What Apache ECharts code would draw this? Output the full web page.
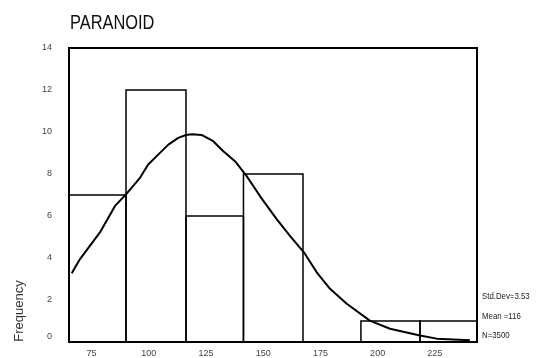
<!DOCTYPE html>
<html>
<head>
<meta charset="utf-8">
<script src="https://cdn.jsdelivr.net/npm/echarts@6/dist/echarts.min.js"></script>
<style>html,body{margin:0;padding:0;background:#fff}#c{width:543px;height:358px}</style>
</head>
<body>
<div id="c"></div>
<script>
// ---- data ----
const binEdges = [65.2, 90.1, 116.3, 141.4, 167.4, 192.7, 218.5, 243.4];
const counts = [7, 12, 6, 8, 0, 1, 1];
const curveX = [66.4, 70.0, 78.7, 85.3, 90.1, 96.2, 99.8, 103.5, 108.6, 112.9, 116.3, 118.8, 123.1, 128.2, 132.6, 137.7, 142.8, 148.6, 155.9, 161.7, 167.8, 173.4, 179.2, 186.5, 196.6, 205.4, 218.5, 225.8, 240.3];
const curveY = [3.27, 3.95, 5.22, 6.48, 7.03, 7.82, 8.45, 8.85, 9.40, 9.72, 9.86, 9.89, 9.86, 9.56, 9.08, 8.61, 7.90, 6.95, 5.85, 5.05, 4.27, 3.32, 2.53, 1.82, 1.02, 0.63, 0.31, 0.16, 0.08];
const xTickLabels = [75, 100, 125, 150, 175, 200, 225];
const stats = ['Std.Dev=3.53', 'Mean =116', 'N=3500'];
const titleText = 'PARANOID';
const yTitle = 'Frequency';

const bins = counts.map((c, i) => [binEdges[i], binEdges[i + 1], c]);
const curve = curveX.map((x, i) => [x, curveY[i]]);

const chart = echarts.init(document.getElementById('c'), null, {renderer: 'canvas'});
const sans = "'Liberation Sans', Arial, sans-serif";
chart.setOption({
  animation: false,
  backgroundColor: '#fff',
  grid: {left: 69, top: 48, right: 66, bottom: 14.7, show: true, borderColor: '#000', borderWidth: 2, backgroundColor: 'transparent'},
  xAxis: {
    type: 'value', min: binEdges[0], max: binEdges[binEdges.length - 1],
    axisLine: {show: false}, axisTick: {show: false}, splitLine: {show: false},
    axisLabel: {customValues: xTickLabels, margin: 7, fontSize: 9, color: '#444', fontFamily: sans}
  },
  yAxis: {
    type: 'value', min: 0, max: 14, interval: 2,
    axisLine: {show: false}, axisTick: {show: false}, splitLine: {show: false},
    axisLabel: {
      margin: 17, fontSize: 9, color: '#444', fontFamily: sans,
      formatter: v => v === 0 ? '{z|0}' : String(v),
      rich: {z: {fontSize: 9, color: '#444', padding: [0, 0, 10, 0]}}
    }
  },
  series: [
    {
      type: 'custom',
      data: bins,
      renderItem: (params, api) => {
        const c = api.value(2);
        if (!c) return null;
        const p0 = api.coord([api.value(0), c]);
        const p1 = api.coord([api.value(1), 0]);
        return {type: 'rect', shape: {x: p0[0], y: p0[1], width: p1[0] - p0[0], height: p1[1] - p0[1]},
          style: {fill: 'none', stroke: '#000', lineWidth: 1.5}};
      },
      z: 2
    },
    {
      type: 'line', data: curve, showSymbol: false, symbol: 'none',
      lineStyle: {color: '#000', width: 2}, z: 3
    }
  ],
  graphic: [
    {type: 'text', x: 70, y: 23.5, scaleX: 0.82,
      style: {text: titleText, font: "20px " + sans, fill: '#111', textAlign: 'left', textVerticalAlign: 'middle'}},
    {type: 'text', x: 19, y: 311, rotation: Math.PI / 2,
      style: {text: yTitle, font: "13px " + sans, fill: '#333', textAlign: 'center', textVerticalAlign: 'middle'}},
    ...stats.map((s, i) => ({type: 'text', x: 482, y: 297 + i * 19.5, scaleX: 0.87,
      style: {text: s, font: "9px " + sans, fill: '#222', textAlign: 'left', textVerticalAlign: 'middle'}}))
  ]
});
</script>
</body>
</html>
